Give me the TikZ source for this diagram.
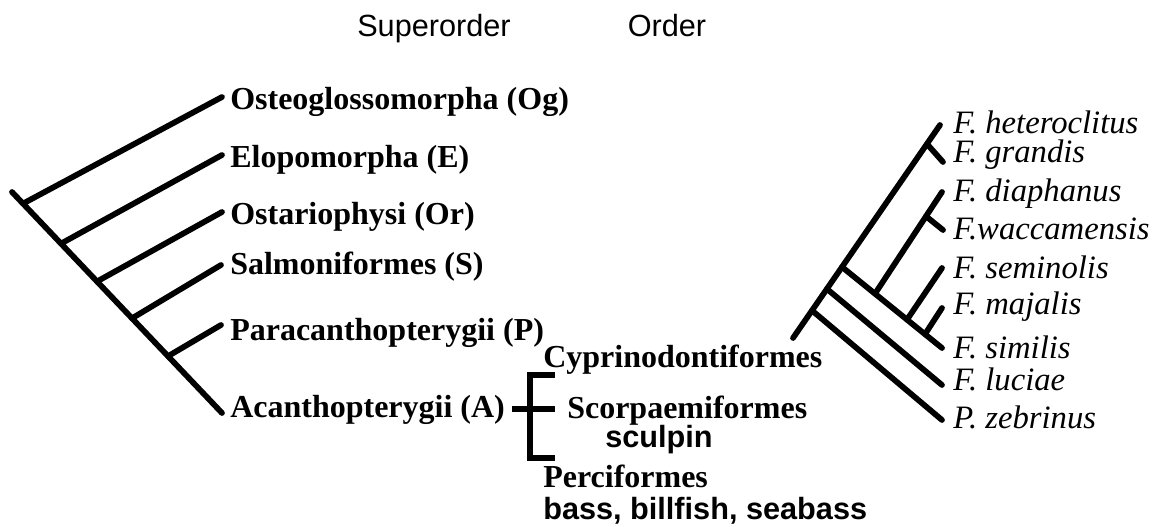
\documentclass[tikz,border=0pt]{standalone}
\usepackage{fontspec}
\setmainfont{Liberation Serif}
\setsansfont{Liberation Sans}
\usetikzlibrary{positioning}

\begin{document}
\begin{tikzpicture}[
    x=0.75pt, y=-0.75pt,
    branch/.style={line width=4.3pt, line cap=round},
    bracket/.style={line width=4pt, line cap=butt, line join=miter},
    clade/.style={anchor=base west, inner sep=0pt, font=\fontsize{24}{28}\selectfont\bfseries},
    species/.style={anchor=base west, inner sep=0pt, font=\fontsize{24.5}{28}\selectfont\itshape},
    common/.style={anchor=base west, inner sep=0pt, font=\fontsize{23}{28}\selectfont\sffamily\bfseries},
    heading/.style={anchor=base, inner sep=0pt, font=\fontsize{23}{28}\selectfont\sffamily}
  ]
    \useasboundingbox (0,0) rectangle (1156,527);

    \node[heading] (superorder) at (434,37) {Superorder};
    \node[heading] (order) at (667,37) {Order};

    \node[clade] (og) at (230,110) {Osteoglossomorpha (Og)};
    \node[clade] (el) at (230,168) {Elopomorpha (E)};
    \node[clade] (or) at (230,225) {Ostariophysi (Or)};
    \node[clade] (sa) at (230,275) {Salmoniformes (S)};
    \node[clade] (pa) at (230,340) {Paracanthopterygii (P)};
    \node[clade] (ac) at (230,417) {Acanthopterygii (A)};

    \coordinate (root) at (12,192);
    \coordinate (j1) at (23,203.6);
    \coordinate (j2) at (61,243.6);
    \coordinate (j3) at (97,281.5);
    \coordinate (j4) at (132,318.3);
    \coordinate (j5) at (168,356.2);
    \coordinate (og-tip) at (222,97);
    \coordinate (el-tip) at (222,155);
    \coordinate (or-tip) at (222,212);
    \coordinate (sa-tip) at (221,265);
    \coordinate (pa-tip) at (221,325);
    \coordinate (ac-tip) at (222,413);

    \draw[branch] (root) -- (ac-tip);
    \draw[branch] (j1) -- (og-tip);
    \draw[branch] (j2) -- (el-tip);
    \draw[branch] (j3) -- (or-tip);
    \draw[branch] (j4) -- (sa-tip);
    \draw[branch] (j5) -- (pa-tip);

    \node[clade] (cy) at (543,367) {Cyprinodontiformes};
    \node[clade] (sc) at (567,418) {Scorpaemiformes};
    \node[common] (sculpin) at (605,447) {sculpin};
    \node[clade] (pe) at (543,487) {Perciformes};
    \node[common] (bass) at (543,519) {bass, billfish, seabass};

    \coordinate (ac-out) at (512,409);
    \coordinate (sc-in) at (555,409);
    \coordinate (br-top) at (530,375);
    \coordinate (br-bot) at (530,458);
    \coordinate (cy-arm) at (555,375);
    \coordinate (pe-arm) at (555,458);

    \draw[bracket] (ac-out) -- (sc-in);
    \draw[bracket] (cy-arm) -- (br-top) -- (br-bot) -- (pe-arm);

    \node[species] (het) at (953,134) {F. heteroclitus};
    \node[species] (gra) at (953,163) {F. grandis};
    \node[species] (dia) at (953,202) {F. diaphanus};
    \node[species] (wac) at (953,240) {F.waccamensis};
    \node[species] (sem) at (953,278) {F. seminolis};
    \node[species] (maj) at (953,315) {F. majalis};
    \node[species] (sim) at (953,358) {F. similis};
    \node[species] (luc) at (953,390) {F. luciae};
    \node[species] (zeb) at (953,428) {P. zebrinus};

    \coordinate (base) at (793,338);
    \coordinate (jz) at (812,310.5);
    \coordinate (jl) at (827,289);
    \coordinate (jc) at (842,267);
    \coordinate (jg) at (927,144);
    \coordinate (jd) at (875,293.7);
    \coordinate (jw) at (926,216.3);
    \coordinate (js) at (907,319.7);
    \coordinate (jm) at (925,334.2);
    \coordinate (het-tip) at (940,125);
    \coordinate (gra-tip) at (943,162);
    \coordinate (dia-tip) at (942,192);
    \coordinate (wac-tip) at (943,230);
    \coordinate (sem-tip) at (942,268);
    \coordinate (maj-tip) at (942,308);
    \coordinate (sim-tip) at (942,348);
    \coordinate (luc-tip) at (942,385);
    \coordinate (zeb-tip) at (942,420);

    \draw[branch] (base) -- (het-tip);
    \draw[branch] (jg) -- (gra-tip);
    \draw[branch] (jz) -- (zeb-tip);
    \draw[branch] (jl) -- (luc-tip);
    \draw[branch] (jc) -- (sim-tip);
    \draw[branch] (jd) -- (dia-tip);
    \draw[branch] (jw) -- (wac-tip);
    \draw[branch] (js) -- (sem-tip);
    \draw[branch] (jm) -- (maj-tip);
\end{tikzpicture}
\end{document}
